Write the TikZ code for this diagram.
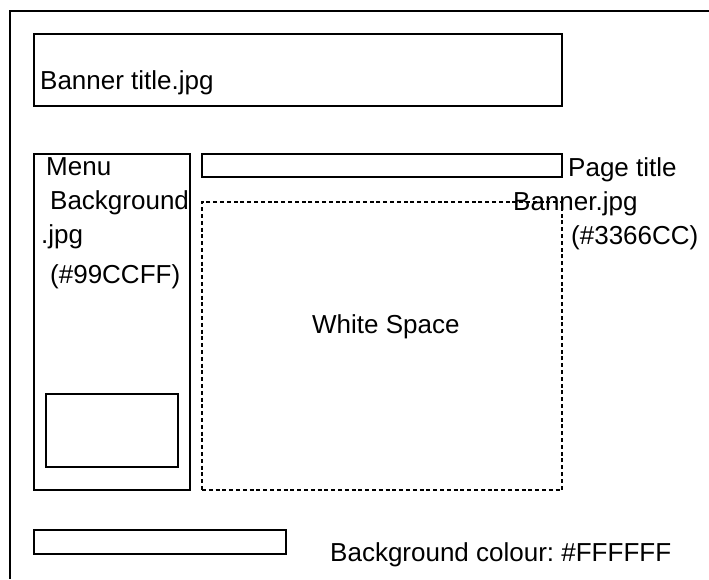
\documentclass[tikz,border=0pt]{standalone}
\usepackage{fontspec}
\setmainfont{Liberation Sans}
\frenchspacing
\begin{document}
\begin{tikzpicture}[x=1pt,y=-1pt,
  solidbox/.style={draw=black,line width=2pt,inner sep=0pt,outer sep=0pt,anchor=north west},
  dotbox/.style={draw=black,line width=2.6pt,dash pattern=on 4pt off 2.8pt,inner sep=0pt,outer sep=0pt,anchor=north west},
  lbl/.style={inner sep=0pt,anchor=base west,font=\fontsize{26}{30}\selectfont}]
\useasboundingbox (0,0) rectangle (709,579);
\fill[white] (0,0) rectangle (709,579);
% outer frame (open to the right and bottom)
\coordinate (fr) at (709,11);
\coordinate (fc) at (10,11);
\coordinate (fb) at (10,579);
\draw[line width=2pt] (fr) -- (fc) -- (fb);
% boxes
\node[solidbox,minimum width=528pt,minimum height=72pt] (banner) at (34,34) {};
\node[solidbox,minimum width=156pt,minimum height=336pt] (menu) at (34,154) {};
\node[solidbox,minimum width=132pt,minimum height=73pt] (inner) at (46,394) {};
\node[solidbox,minimum width=360pt,minimum height=23pt] (ptitle) at (202,154) {};
\node[dotbox,minimum width=360pt,minimum height=288pt] (white) at (202,202) {};
\node[solidbox,minimum width=252pt,minimum height=24pt] (foot) at (34,530) {};
% texts
\node[lbl] (tbanner) at (40,89) {Banner title.jpg};
\node[lbl] (tmenu1) at (46,175) {Menu};
\node[lbl] (tmenu2) at (50,209) {Background};
\node[lbl] (tmenu3) at (41,243) {.jpg};
\node[lbl] (tmenu4) at (50,283) {(\#99CCFF)};
\node[lbl] (tpt1) at (568,176) {Page title};
\node[lbl] (tpt2) at (513,210) {Banner.jpg};
\node[lbl] (tpt3) at (571,244) {(\#3366CC)};
\node[lbl] (twhite) at (312,333) {White Space};
\node[lbl] (tbg) at (330,561) {Background colour: \#FFFFFF};
\end{tikzpicture}
\end{document}
